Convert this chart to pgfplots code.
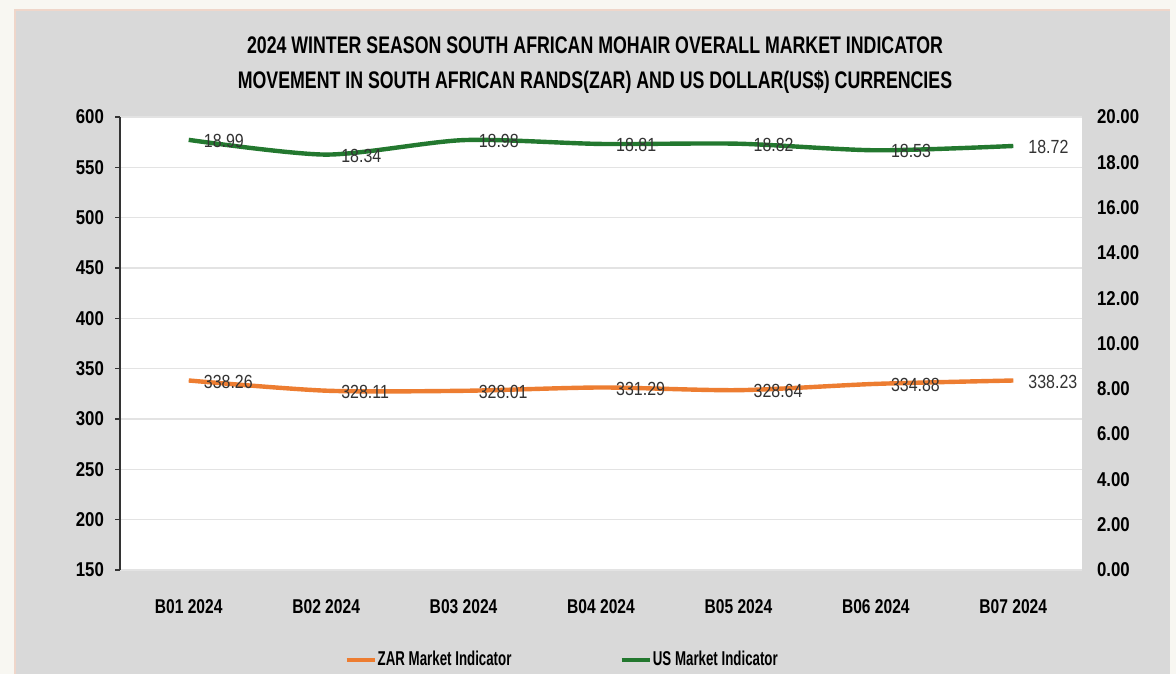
\documentclass[border=0pt]{standalone}
\usepackage{fontspec}
\setmainfont{Liberation Sans}[FakeStretch=0.84]
\newfontfamily\titlefont{Liberation Sans}[FakeStretch=0.74]
\newfontfamily\legfont{Liberation Sans}[FakeStretch=0.665]
\newfontfamily\xlabfont{Liberation Sans}[FakeStretch=0.78]
\usepackage{pgfplots}
\pgfplotsset{compat=1.18}

\definecolor{zar}{HTML}{ED7D31}
\definecolor{usd}{HTML}{23782F}
\definecolor{panel}{HTML}{D9D9D9}
\definecolor{outer}{HTML}{F8F7F2}
\definecolor{peach}{HTML}{EFD6CA}
\definecolor{gridc}{HTML}{E3E3E3}
\definecolor{lbl}{HTML}{333333}

\pgfplotsset{
  common/.style={
    at={(60pt,52pt)}, anchor=south west,
    scale only axis, width=481pt, height=226.5pt,
    xmin=-0.5, xmax=6.5,
    /pgf/number format/assume math mode=true,
    ticklabel style={font=\bfseries\fontsize{10}{12}\selectfont, text=black},
    axis line style={-},
  },
  datalbl/.style={
    nodes near coords,
    point meta=explicit symbolic,
    every node near coord/.append style={anchor=west, inner sep=0pt, xshift=6.5pt, yshift=-0.5pt,
      font=\fontsize{9.5}{11}\selectfont, text=lbl},
  },
}

\begin{document}
\begin{tikzpicture}
  \fill[outer] (0,0) rectangle (588pt,337pt);
  \fill[panel] (7.5pt,0) rectangle (585pt,332pt);
  \draw[peach, line width=1.2pt] (7.5pt,0) -- (7.5pt,332pt) -- (585pt,332pt);
  \node[font=\titlefont\bfseries\fontsize{12}{14}\selectfont] at (297.5pt,314.5pt)
    {2024 WINTER SEASON SOUTH AFRICAN MOHAIR OVERALL MARKET INDICATOR};
  \node[font=\titlefont\bfseries\fontsize{12}{14}\selectfont] at (297.5pt,296pt)
    {MOVEMENT IN SOUTH AFRICAN RANDS(ZAR) AND US DOLLAR(US\$) CURRENCIES};

  % left axis: ZAR
  \begin{axis}[common,
      axis background/.style={fill=white},
      ymin=150, ymax=600, ytick={150,200,...,600},
      xtick={0,...,6},
      xticklabels={B01 2024,B02 2024,B03 2024,B04 2024,B05 2024,B06 2024,B07 2024},
      axis y line*=left, axis x line*=bottom,
      x axis line style={draw=none},
      y axis line style={draw=black!80, line width=0.6pt},
      xtick style={draw=none},
      ytick style={draw=black!80, line width=0.6pt},
      tick align=outside, major tick length=2.5pt,
      ymajorgrids, grid style={draw=gridc, line width=0.8pt},
      xticklabel style={yshift=-8.5pt, font=\xlabfont\bfseries\fontsize{10}{12}\selectfont},
      yticklabel style={xshift=-2pt},
      legend columns=2,
      legend style={at={(0.459,-0.1987)}, anchor=center, draw=none, fill=none,
        font=\legfont\bfseries\fontsize{10}{12}\selectfont,
        /tikz/every even column/.append style={column sep=53.5pt},
        nodes={inner xsep=0.5pt}},
      legend image code/.code={\draw[#1] (0pt,0pt) -- (14pt,0pt);},
    ]
    \addplot[zar, line width=2.2pt, smooth, tension=0.45, datalbl] coordinates {
      (0,338.26) [338.26] (1,328.11) [328.11] (2,328.01) [328.01] (3,331.29) [331.29]
      (4,328.64) [328.64] (5,334.88) [334.88] (6,338.23) [338.23]
    };
    \addlegendentry{ZAR Market Indicator}
    \addlegendimage{usd, line width=2.2pt}
    \addlegendentry{US Market Indicator}
  \end{axis}

  % right axis: US$
  \begin{axis}[common,
      ymin=0, ymax=20, ytick={0,2,...,20},
      axis y line*=right, axis x line=none,
      y axis line style={draw=none},
      ytick style={draw=none}, major tick length=0pt,
      yticklabel style={/pgf/number format/fixed, /pgf/number format/fixed zerofill,
        /pgf/number format/precision=2, xshift=4pt},
    ]
    \addplot[usd, line width=2.2pt, smooth, tension=0.45, datalbl] coordinates {
      (0,18.99) [18.99] (1,18.34) [18.34] (2,18.98) [18.98] (3,18.81) [18.81]
      (4,18.82) [18.82] (5,18.53) [18.53] (6,18.72) [18.72]
    };
  \end{axis}
  \useasboundingbox (0,0) rectangle (588pt,337pt);
\end{tikzpicture}
\end{document}
